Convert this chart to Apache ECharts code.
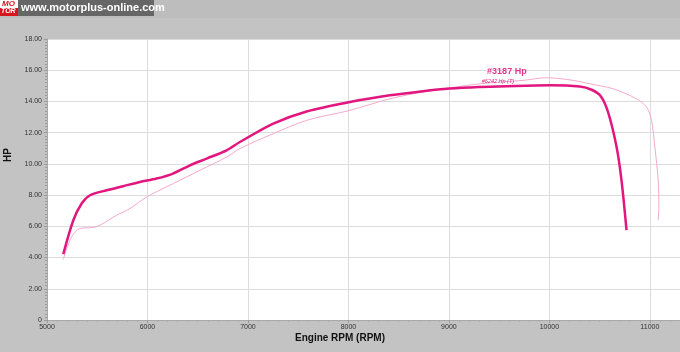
<!DOCTYPE html>
<html><head><meta charset="utf-8">
<script src="https://cdn.jsdelivr.net/npm/echarts@6/dist/echarts.min.js"></script>
<style>html,body{margin:0;padding:0;background:#c3c3c3;}#c{width:680px;height:352px;}</style>
</head><body><div id="c"></div>
<script>
// Main run #3187 (thick)
const mainRpm = [5162,5262,5345,5428,5594,5756,5925,6091,6254,6423,6589,6788,6920,7252,7584,8015,8413,8741,9010,9300,9574,10005,10303,10420,10510,10585,10669,10718,10768];
const mainHp  = [4.22,6.39,7.46,7.99,8.31,8.57,8.84,9.06,9.38,9.91,10.34,10.87,11.40,12.58,13.36,13.96,14.39,14.66,14.83,14.93,14.98,15.03,14.95,14.75,14.35,13.30,11.08,8.95,5.75];
// Reference run #6242 (thin)
const refRpm = [5162,5245,5328,5461,5527,5693,5826,5992,6257,6522,6788,6920,7252,7584,8015,8413,8741,9308,9739,9972,10237,10403,10635,10867,10967,11017,11050,11083,11090,11083];
const refHp  = [3.88,5.33,5.86,5.93,6.07,6.71,7.14,7.88,8.74,9.59,10.44,10.98,11.94,12.79,13.43,14.17,14.60,15.13,15.35,15.52,15.35,15.13,14.81,14.17,13.64,12.79,11.08,8.95,7.25,6.39];
const xTicks = [5000,6000,7000,8000,9000,10000,11000];
const yTicks = [0,2,4,6,8,10,12,14,16,18];
const labelMain = '#3187 Hp';
const labelRef = '#6242 Hp (T)';

const chart = echarts.init(document.getElementById('c'), null, {renderer:'canvas'});
const zip = (a,b)=>a.map((v,i)=>[v,b[i]]);
chart.setOption({
  backgroundColor:'#c3c3c3',
  animation:false,
  grid:{left:47,right:-4,top:39,bottom:32,show:true,backgroundColor:'#ffffff',borderWidth:0,outerBoundsMode:'none',containLabel:false},
  xAxis:{type:'value',min:5000,max:11340,interval:1000,
    axisLine:{show:true,lineStyle:{color:'#a8a8a8'}},
    axisTick:{show:true,length:3,lineStyle:{color:'#999'}},
    minorTick:{show:true,splitNumber:10,length:2,lineStyle:{color:'#aaa'}},
    axisLabel:{fontSize:7,color:'#333',margin:4,fontFamily:'Liberation Sans',
      formatter:v=>xTicks.includes(v)?String(v):''},
    splitLine:{show:true,lineStyle:{color:'#dcdcdc',width:1}}},
  yAxis:{type:'value',min:0,max:18,interval:2,
    axisLine:{show:true,lineStyle:{color:'#a8a8a8'}},
    axisTick:{show:true,length:3,lineStyle:{color:'#999'}},
    minorTick:{show:true,splitNumber:10,length:2,lineStyle:{color:'#999'}},
    axisLabel:{fontSize:7,color:'#333',margin:5,fontFamily:'Liberation Sans',
      formatter:v=>yTicks.includes(v)?(v===0?'0':v.toFixed(2)):''},
    splitLine:{show:true,lineStyle:{color:'#dcdcdc',width:1}}},
  series:[
    {type:'line',data:zip(refRpm,refHp),smooth:0.3,symbol:'none',
     lineStyle:{color:'#f3a9cd',width:1},z:2,
     markPoint:{symbol:'circle',symbolSize:0,data:[{coord:[9488,15.28],
       label:{show:true,formatter:labelRef,color:'#e0207f',fontSize:5.5,fontStyle:'italic',fontFamily:'Liberation Sans'}}]}},
    {type:'line',data:zip(mainRpm,mainHp),smooth:0.3,symbol:'none',
     lineStyle:{color:'#e2167f',width:2.5},z:3,
     markPoint:{symbol:'circle',symbolSize:0,data:[{coord:[9577,15.90],
       label:{show:true,formatter:labelMain,color:'#e6338f',fontSize:9,fontWeight:'bold',fontFamily:'Liberation Sans'}}]}}
  ],
  graphic:[
    {type:'rect',left:0,top:0,shape:{width:680,height:18},style:{fill:'#bdbdbd'},z:-1},
    {type:'rect',left:18,top:0,shape:{width:136,height:16},style:{fill:'#666666'}},
    {type:'text',left:21,top:2,style:{text:'www.motorplus-online.com',fill:'#ffffff',font:'bold 11px "Liberation Sans"'}},
    {type:'rect',left:0,top:0,shape:{width:18,height:16},style:{fill:'#ffffff'}},
    {type:'rect',left:0,top:8,shape:{width:18,height:8},style:{fill:'#d8141d'}},
    {type:'text',left:2,top:0,style:{text:'MO',fill:'#d8141d',font:'italic bold 8px "Liberation Sans"'}},
    {type:'text',left:1,top:8,style:{text:'TOR',fill:'#ffffff',font:'italic bold 7px "Liberation Sans"'}},
    {type:'text',x:340,y:338,style:{text:'Engine RPM (RPM)',fill:'#111',font:'bold 10px "Liberation Sans"',align:'center',verticalAlign:'middle'}},
    {type:'text',x:8,y:155,rotation:Math.PI/2,style:{text:'HP',fill:'#111',font:'bold 10px "Liberation Sans"',align:'center',verticalAlign:'middle'}}
  ]
});
</script></body></html>
